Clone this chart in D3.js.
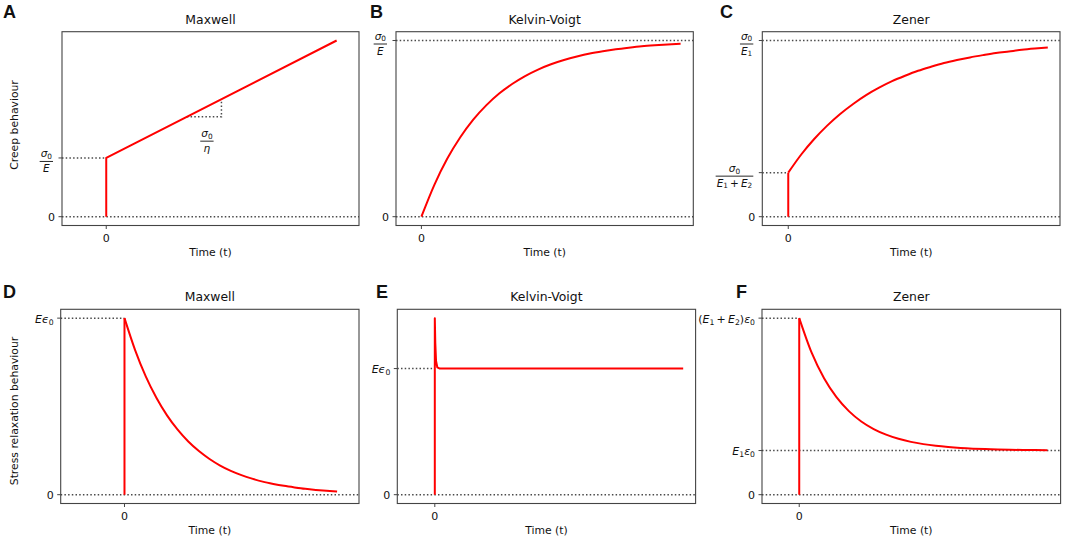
<!DOCTYPE html>
<html>
<head>
<meta charset="utf-8">
<script src="https://cdn.jsdelivr.net/npm/d3@7/dist/d3.min.js"></script>
<style>
  html, body { margin: 0; padding: 0; background: #fff; }
  svg { display: block; }
  text { font-family: "DejaVu Sans", sans-serif; fill: #111; }
</style>
</head>
<body>
<svg id="chart" width="1065" height="538"></svg>
<script>
// ---------------- DATA ----------------
const panelLetters = ["A", "B", "C", "D", "E", "F"];
const panelTitles = ["Maxwell", "Kelvin-Voigt", "Zener", "Maxwell", "Kelvin-Voigt", "Zener"];
const rowLabels = ["Creep behaviour", "Stress relaxation behaviour"];
const xLabel = "Time (t)";
const xTickValues = [0];
const xTickLabels = ["0"];

// common sampled time grid for the smooth curves
const timeGrid = [0, 0.5, 1, 1.5, 2, 2.5, 3, 3.5, 4, 4.5, 5, 5.5, 6, 6.5, 7, 7.5, 8, 8.5, 9, 9.5, 10];

// A: Maxwell creep (instant jump to σ0/E, then linear growth)
const maxwellCreepTime = [0, 0, 10];
const maxwellCreepValue = [0, 1, 3];
const slopeTriangleTime = [3.5, 5, 5];
const slopeTriangleValue = [1.7, 1.7, 2.0];

// B: Kelvin-Voigt creep
const kelvinCreepValue = [0, 0.181, 0.330, 0.451, 0.551, 0.632, 0.699, 0.753, 0.798, 0.835, 0.865,
  0.889, 0.909, 0.926, 0.939, 0.950, 0.959, 0.967, 0.973, 0.978, 0.982];

// C: Zener creep (jump to σ0/(E1+E2) = 0.25 of σ0/E1)
const zenerCreepValue = [0.25, 0.353, 0.441, 0.517, 0.583, 0.640, 0.690, 0.732, 0.769, 0.800, 0.828,
  0.851, 0.872, 0.889, 0.904, 0.917, 0.929, 0.938, 0.947, 0.954, 0.960];

// D: Maxwell stress relaxation
const maxwellRelaxValue = [1, 0.819, 0.670, 0.549, 0.449, 0.368, 0.301, 0.247, 0.202, 0.165, 0.135,
  0.111, 0.091, 0.074, 0.061, 0.050, 0.041, 0.033, 0.027, 0.022, 0.018];

// E: Kelvin-Voigt stress relaxation (spike then constant Eε0)
const kelvinRelaxTime = [0, 0, 0.02, 0.05, 0.1, 0.2, 10];
const kelvinRelaxValue = [0, 1.4, 1.2, 1.06, 1.01, 1.0, 1.0];

// F: Zener stress relaxation (from (E1+E2)ε0 = 4 down to E1ε0 = 1)
const zenerRelaxValue = [4, 3.216, 2.637, 2.209, 1.893, 1.659, 1.487, 1.360, 1.266, 1.196, 1.145,
  1.107, 1.079, 1.058, 1.043, 1.032, 1.023, 1.017, 1.013, 1.010, 1.007];

// y tick values per panel (also used for the dotted reference lines)
const yTicksA = [0, 1];
const yTicksB = [0, 1];
const yTicksC = [0, 0.25, 1];
const yTicksD = [0, 1];
const yTicksE = [0, 1];
const yTicksF = [0, 1, 4];

// ---------------- LAYOUT ----------------
const panels = [
  { left: 62,    right: 359,    top: 31.7,  bottom: 225.5, x: [-1.92, 10.97], y: [-0.15, 3.15], lx: 3,   ly: 18.3 },
  { left: 396,   right: 693.3,  top: 31.7,  bottom: 225.5, x: [-0.98, 10.49], y: [-0.05, 1.05], lx: 370, ly: 18.3 },
  { left: 762.3, right: 1060,   top: 31.7,  bottom: 225.5, x: [-1.0, 10.47],  y: [-0.05, 1.05], lx: 720, ly: 18.3 },
  { left: 60.7,  right: 359,    top: 309.3, bottom: 503.5, x: [-3.0, 11.03],  y: [-0.05, 1.05], lx: 3,   ly: 298.3 },
  { left: 397.3, right: 695.6,  top: 309.3, bottom: 503.5, x: [-1.51, 10.5],  y: [-0.07, 1.47], lx: 376, ly: 298.3 },
  { left: 762,   right: 1060.6, top: 309.3, bottom: 503.5, x: [-1.5, 10.53],  y: [-0.2, 4.2],   lx: 736, ly: 298.3 }
];

const svg = d3.select("#chart");
const RED = "#ff0000";
const DOT = "#4a4a4a";
const DASH = "1.5 2.2";
const TICK_FS = 11;
const PLUS = "\u2009+\u2009";

// math text helper: parts = [{t, i, sub}]
function mathParts(textSel, parts, fs, subShift) {
  const sh = subShift === undefined ? 0.28 : subShift;
  let shifted = 0;
  parts.forEach(p => {
    const ts = textSel.append("tspan").text(p.t);
    if (p.i) ts.attr("font-style", "italic");
    if (p.sub) {
      ts.attr("font-size", fs * 0.7).attr("dy", fs * sh - shifted);
      shifted = fs * sh;
    } else {
      if (shifted) ts.attr("dy", -shifted);
      shifted = 0;
    }
  });
}

function plainLabel(g, xRight, y, parts) {
  const t = g.append("text").attr("x", xRight).attr("y", y)
    .attr("text-anchor", "end").attr("dominant-baseline", "central")
    .attr("font-size", TICK_FS);
  mathParts(t, parts, TICK_FS);
  return t;
}

function fracLabel(g, xRight, yBar, num, den, anchorMiddle) {
  const fs = 10.5;
  const nt = g.append("text").attr("font-size", fs).attr("text-anchor", "middle");
  mathParts(nt, num, fs, 0.16);
  const dt = g.append("text").attr("font-size", fs).attr("text-anchor", "middle");
  mathParts(dt, den, fs, 0.16);
  const w = Math.max(nt.node().getComputedTextLength(), dt.node().getComputedTextLength()) + 2;
  const cx = anchorMiddle ? xRight : xRight - w / 2;
  nt.attr("x", cx).attr("y", yBar - 4.2);
  dt.attr("x", cx).attr("y", yBar + 10.6);
  g.append("line").attr("x1", cx - w / 2).attr("x2", cx + w / 2)
    .attr("y1", yBar).attr("y2", yBar).attr("stroke", "#111").attr("stroke-width", 0.9);
}

const sigma0 = [{ t: "σ", i: true }, { t: "0", sub: true }];
const zero = [{ t: "0" }];

// tick label definitions for each panel
const yLabelDefs = [
  [{ v: yTicksA[0], plain: zero }, { v: yTicksA[1], num: sigma0, den: [{ t: "E", i: true }] }],
  [{ v: yTicksB[0], plain: zero }, { v: yTicksB[1], num: sigma0, den: [{ t: "E", i: true }] }],
  [{ v: yTicksC[0], plain: zero },
   { v: yTicksC[1], num: sigma0, den: [{ t: "E", i: true }, { t: "1", sub: true }, { t: PLUS }, { t: "E", i: true }, { t: "2", sub: true }] },
   { v: yTicksC[2], num: sigma0, den: [{ t: "E", i: true }, { t: "1", sub: true }] }],
  [{ v: yTicksD[0], plain: zero }, { v: yTicksD[1], plain: [{ t: "E", i: true }, { t: "ϵ", i: true }, { t: "0", sub: true }] }],
  [{ v: yTicksE[0], plain: zero }, { v: yTicksE[1], plain: [{ t: "E", i: true }, { t: "ϵ", i: true }, { t: "0", sub: true }] }],
  [{ v: yTicksF[0], plain: zero },
   { v: yTicksF[1], plain: [{ t: "E", i: true }, { t: "1", sub: true }, { t: "ε", i: true }, { t: "0", sub: true }] },
   { v: yTicksF[2], plain: [{ t: "(" }, { t: "E", i: true }, { t: "1", sub: true }, { t: PLUS }, { t: "E", i: true }, { t: "2", sub: true }, { t: ")" }, { t: "ε", i: true }, { t: "0", sub: true }] }]
];

// reference dotted lines: full width or only up to t = 0
const refLines = [
  [{ v: yTicksA[0], full: true }, { v: yTicksA[1], full: false }],
  [{ v: yTicksB[0], full: true }, { v: yTicksB[1], full: true }],
  [{ v: yTicksC[0], full: true }, { v: yTicksC[1], full: false }, { v: yTicksC[2], full: true }],
  [{ v: yTicksD[0], full: true }, { v: yTicksD[1], full: false }],
  [{ v: yTicksE[0], full: true }, { v: yTicksE[1], full: false }],
  [{ v: yTicksF[0], full: true }, { v: yTicksF[1], full: true }, { v: yTicksF[2], full: false }]
];

const yTicksAll = [yTicksA, yTicksB, yTicksC, yTicksD, yTicksE, yTicksF];

// series per panel
const seriesDefs = [
  { time: maxwellCreepTime, value: maxwellCreepValue, curve: d3.curveLinear },
  { time: timeGrid, value: kelvinCreepValue, curve: d3.curveMonotoneX },
  { jump: true, time: timeGrid, value: zenerCreepValue, curve: d3.curveMonotoneX },
  { jump: true, time: timeGrid, value: maxwellRelaxValue, curve: d3.curveMonotoneX },
  { time: kelvinRelaxTime, value: kelvinRelaxValue, curve: d3.curveLinear },
  { jump: true, time: timeGrid, value: zenerRelaxValue, curve: d3.curveMonotoneX }
];

panels.forEach((p, i) => {
  const g = svg.append("g");
  const xs = d3.scaleLinear().domain(p.x).range([p.left, p.right]);
  const ys = d3.scaleLinear().domain(p.y).range([p.bottom, p.top]);

  const clipId = "clip" + i;
  svg.append("clipPath").attr("id", clipId).append("rect")
    .attr("x", p.left).attr("y", p.top).attr("width", p.right - p.left).attr("height", p.bottom - p.top);
  const inner = g.append("g").attr("clip-path", `url(#${clipId})`);

  // dotted reference lines
  refLines[i].forEach(r => {
    inner.append("line")
      .attr("x1", p.left).attr("x2", r.full ? p.right : xs(0))
      .attr("y1", ys(r.v)).attr("y2", ys(r.v))
      .attr("stroke", DOT).attr("stroke-width", 1.5).attr("stroke-dasharray", DASH);
  });

  // slope triangle in A
  if (i === 0) {
    const tri = d3.line().x((d, k) => xs(slopeTriangleTime[k])).y((d, k) => ys(slopeTriangleValue[k]));
    inner.append("path").attr("d", tri(slopeTriangleTime)).attr("fill", "none")
      .attr("stroke", DOT).attr("stroke-width", 1.5).attr("stroke-dasharray", DASH);
  }

  // red curve
  const s = seriesDefs[i];
  const pts = s.time.map((t, k) => [t, s.value[k]]);
  if (s.jump) {
    inner.append("path").attr("d", d3.line().x(d => xs(d[0])).y(d => ys(d[1]))([[0, 0], [0, s.value[0]]]))
      .attr("fill", "none").attr("stroke", RED).attr("stroke-width", 2);
  }
  inner.append("path")
    .attr("d", d3.line().x(d => xs(d[0])).y(d => ys(d[1])).curve(s.curve)(pts))
    .attr("fill", "none").attr("stroke", RED).attr("stroke-width", 2).attr("stroke-linejoin", "round");

  // frame
  g.append("rect").attr("x", p.left).attr("y", p.top)
    .attr("width", p.right - p.left).attr("height", p.bottom - p.top)
    .attr("fill", "none").attr("stroke", "#444").attr("stroke-width", 1.1);

  // x ticks
  xTickValues.forEach((v, k) => {
    g.append("line").attr("x1", xs(v)).attr("x2", xs(v))
      .attr("y1", p.bottom).attr("y2", p.bottom + 3.5).attr("stroke", "#444").attr("stroke-width", 1);
    g.append("text").attr("x", xs(v)).attr("y", p.bottom + 16.2)
      .attr("text-anchor", "middle").attr("font-size", TICK_FS).text(xTickLabels[k]);
  });
  // x label
  g.append("text").attr("x", (p.left + p.right) / 2).attr("y", p.bottom + 30.5)
    .attr("text-anchor", "middle").attr("font-size", 10.8).text(xLabel);

  // y ticks
  yTicksAll[i].forEach(v => {
    g.append("line").attr("x1", p.left - 3.5).attr("x2", p.left)
      .attr("y1", ys(v)).attr("y2", ys(v)).attr("stroke", "#444").attr("stroke-width", 1);
  });
  yLabelDefs[i].forEach(d => {
    if (d.plain) plainLabel(g, p.left - 7, ys(d.v) + 0.5, d.plain);
    else fracLabel(g, p.left - 9, ys(d.v) + 3.5, d.num, d.den, false);
  });

  // title
  g.append("text").attr("x", (p.left + p.right) / 2).attr("y", p.top - 8)
    .attr("text-anchor", "middle").attr("font-size", 12.4).text(panelTitles[i]);

  // panel letter
  g.append("text").attr("x", p.lx).attr("y", p.ly)
    .style("font-family", "'Liberation Sans', Arial, sans-serif").attr("font-weight", "bold")
    .attr("font-size", 18).text(panelLetters[i]);

  // slope label in A
  if (i === 0) {
    fracLabel(g, xs(4.37), ys(1.32) + 2, sigma0, [{ t: "η", i: true }], true);
  }
});

// row labels
const rowCenters = [125, 411];
rowLabels.forEach((lab, r) => {
  svg.append("text")
    .attr("transform", `translate(17.5, ${rowCenters[r]}) rotate(-90)`)
    .attr("text-anchor", "middle").attr("font-size", 10.8).text(lab);
});
</script>
</body>
</html>
